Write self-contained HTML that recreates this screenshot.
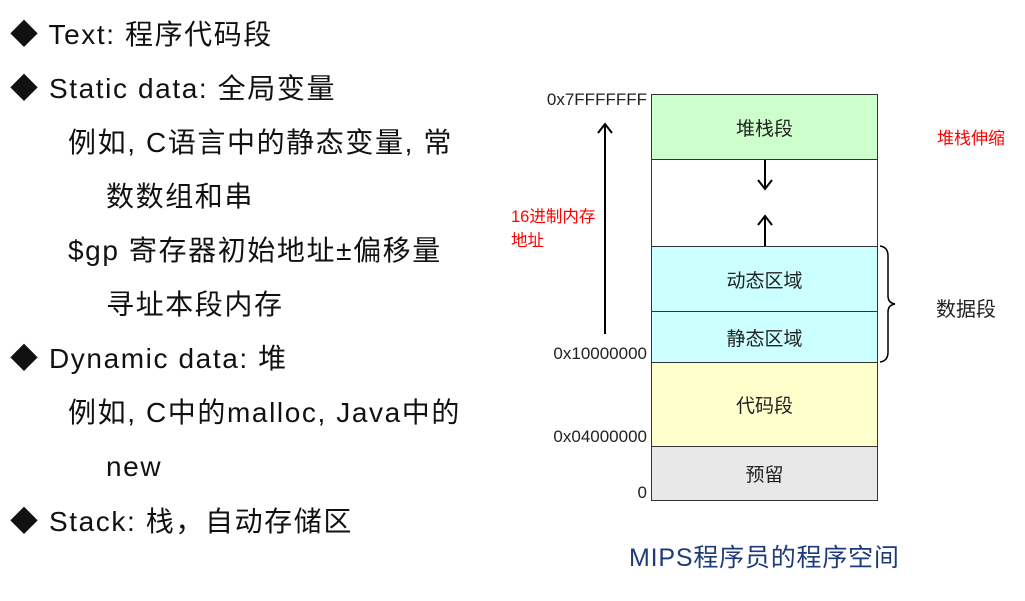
<!DOCTYPE html>
<html><head><meta charset="utf-8"><style>
body{margin:0;width:1025px;height:601px;background:#fff;position:relative;overflow:hidden;font-family:"Liberation Sans","Noto Sans CJK SC",sans-serif;}
.l{position:absolute;font-size:28px;color:#111;white-space:nowrap;line-height:34px;letter-spacing:1.6px;}
.s{position:absolute;font-size:17px;color:#222;white-space:nowrap;}
.b{position:absolute;left:651px;width:227px;border:1px solid #333;box-sizing:border-box;display:flex;align-items:center;justify-content:center;font-size:19px;color:#222;}
</style></head><body>
<div class="l" style="left:10px;top:18px">◆ Text: 程序代码段</div>
<div class="l" style="left:10px;top:72px">◆ Static data: 全局变量</div>
<div class="l" style="left:68px;top:126px">例如, C语言中的静态变量, 常</div>
<div class="l" style="left:106px;top:180px">数数组和串</div>
<div class="l" style="left:68px;top:234px">$gp 寄存器初始地址±偏移量</div>
<div class="l" style="left:106px;top:288px">寻址本段内存</div>
<div class="l" style="left:10px;top:342px">◆ Dynamic data: 堆</div>
<div class="l" style="left:68px;top:396px">例如, C中的malloc, Java中的</div>
<div class="l" style="left:106px;top:450px">new</div>
<div class="l" style="left:10px;top:505px">◆ Stack: 栈，自动存储区</div>

<div class="b" style="top:94px;height:66px;background:#ccffcc">堆栈段</div>
<div class="b" style="top:159px;height:88px;background:#fff"></div>
<div class="b" style="top:246px;height:66px;background:#ccffff">动态区域</div>
<div class="b" style="top:311px;height:52px;background:#ccffff">静态区域</div>
<div class="b" style="top:362px;height:85px;background:#ffffcc">代码段</div>
<div class="b" style="top:446px;height:55px;background:#e8e8e8">预留</div>

<svg style="position:absolute;left:0;top:0" width="1025" height="601">
<g stroke="#000" stroke-width="2" fill="none">
<line x1="605" y1="334" x2="605" y2="124"/><polyline points="598,133 605,124 612,133"/>
<line x1="765" y1="160" x2="765" y2="189"/><polyline points="758,180 765,189 772,180"/>
<line x1="765" y1="246" x2="765" y2="216"/><polyline points="758,225 765,216 772,225"/>
<path stroke-width="1.5" d="M880,246 Q888,247 888,256 L888,296 Q888,303 895,304 Q888,305 888,312 L888,352 Q888,361 880,362"/>
</g></svg>

<div class="s" style="right:378px;top:90px">0x7FFFFFFF</div>
<div class="s" style="right:378px;top:344px">0x10000000</div>
<div class="s" style="right:378px;top:427px">0x04000000</div>
<div class="s" style="right:378px;top:483px">0</div>
<div class="s" style="left:511px;top:205px;color:#f00;line-height:24px;font-size:16.5px">16进制内存<br>地址</div>
<div class="s" style="left:937px;top:124px;color:#f00">堆栈伸缩</div>
<div class="s" style="left:936px;top:293px;font-size:20px">数据段</div>
<div class="s" style="left:629px;top:538px;font-size:25px;letter-spacing:0.8px;color:#1f3a7a">MIPS程序员的程序空间</div>
</body></html>
